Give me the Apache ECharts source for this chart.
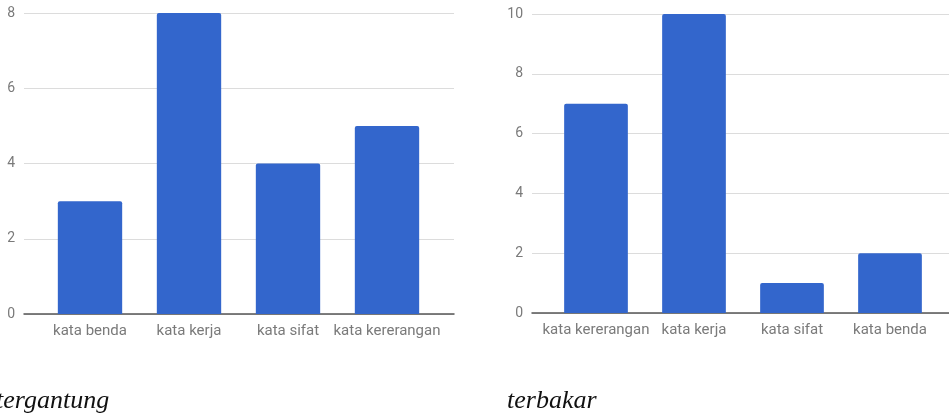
<!DOCTYPE html>
<html>
<head>
<meta charset="utf-8">
<script src="https://cdn.jsdelivr.net/npm/echarts@6/dist/echarts.min.js"></script>
<style>
html,body{margin:0;padding:0;background:#fff;}
#c{width:949px;height:415px;}
</style>
</head>
<body>
<div id="c"></div>
<script>
// Left chart: "tergantung"
const leftCategories = ['kata benda', 'kata kerja', 'kata sifat', 'kata kererangan'];
const leftValues = [3, 8, 4, 5];
const leftCaption = 'tergantung';
// Right chart: "terbakar"
const rightCategories = ['kata kererangan', 'kata kerja', 'kata sifat', 'kata benda'];
const rightValues = [7, 10, 1, 2];
const rightCaption = 'terbakar';
const leftTicks = { min: 0, max: 8, interval: 2 };
const rightTicks = { min: 0, max: 10, interval: 2 };

const BAR = '#3366cc';
const GRID = '#dcdcdc';
const BASE = '#555555';
const LABEL = '#7a7a7a';
const FONT = 'Roboto, sans-serif';

function bgX(gi) {
  return { gridIndex: gi, type: 'value', min: 0, max: 1,
    axisLine: { show: true, onZero: false, lineStyle: { color: BASE, width: 1.5 } },
    axisTick: { show: false }, axisLabel: { show: false }, splitLine: { show: false } };
}
function bgY(gi, t) {
  return { gridIndex: gi, type: 'value', min: t.min, max: t.max, interval: t.interval,
    axisLine: { show: false }, axisTick: { show: false },
    axisLabel: { color: LABEL, fontFamily: FONT, fontSize: 14, margin: 9 },
    splitLine: { lineStyle: { color: GRID, width: 1 } } };
}
function catX(gi, cats) {
  return { gridIndex: gi, type: 'category', data: cats,
    axisLine: { show: false }, axisTick: { show: false },
    axisLabel: { color: LABEL, fontFamily: FONT, fontSize: 15, margin: 10, interval: 0 } };
}
function hidY(gi, t) {
  return { gridIndex: gi, type: 'value', min: t.min, max: t.max, show: false };
}

const chart = echarts.init(document.getElementById('c'), null, { renderer: 'canvas' });
chart.setOption({
  animation: false,
  backgroundColor: '#ffffff',
  grid: [
    { left: 24, top: 13, width: 430, height: 301 },
    { left: 40.5, top: 13, width: 396, height: 301 },
    { left: 532, top: 14, width: 430, height: 299 },
    { left: 547, top: 14, width: 392, height: 299 }
  ],
  xAxis: [bgX(0), catX(1, leftCategories), bgX(2), catX(3, rightCategories)],
  yAxis: [bgY(0, leftTicks), hidY(1, leftTicks), bgY(2, rightTicks), hidY(3, rightTicks)],
  series: [
    { type: 'bar', xAxisIndex: 1, yAxisIndex: 1, data: leftValues, barCategoryGap: '35%',
      itemStyle: { color: BAR, borderRadius: [2, 2, 0, 0] }, z: 3 },
    { type: 'bar', xAxisIndex: 3, yAxisIndex: 3, data: rightValues, barCategoryGap: '35%',
      itemStyle: { color: BAR, borderRadius: [2, 2, 0, 0] }, z: 3 }
  ],
  graphic: [
    { type: 'text', left: -4, top: 388, style: { text: leftCaption, fontFamily: '"Liberation Serif", serif', fontStyle: 'italic', fontSize: 26, fill: '#111' } },
    { type: 'text', left: 507, top: 388, style: { text: rightCaption, fontFamily: '"Liberation Serif", serif', fontStyle: 'italic', fontSize: 26, fill: '#111' } }
  ]
});
</script>
</body>
</html>
